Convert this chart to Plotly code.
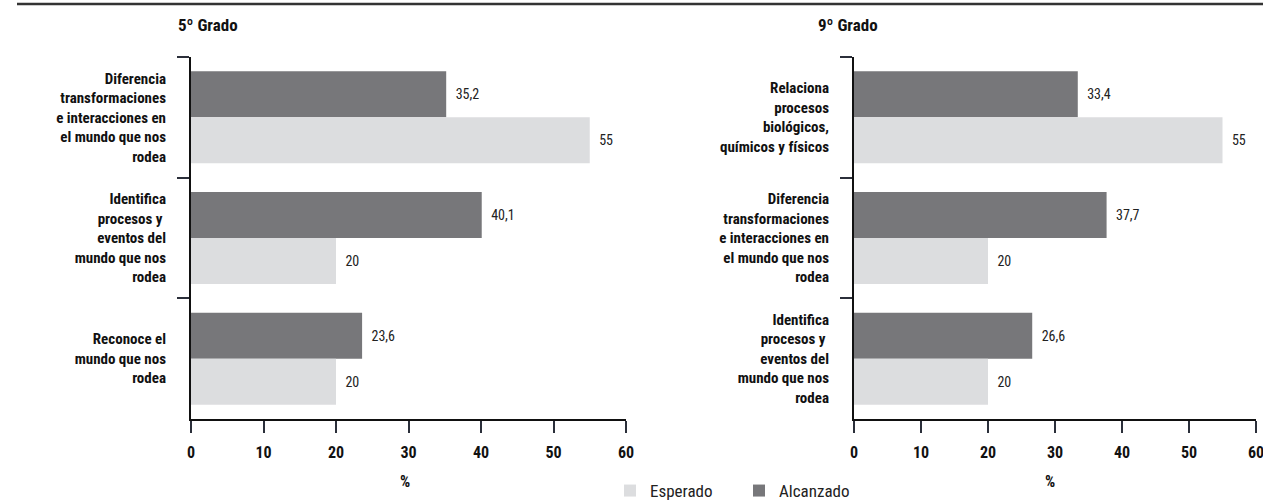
import plotly.graph_objects as go

# ---- data ----
cats5 = [
    "Diferencia<br>transformaciones<br>e interacciones en<br>el mundo que nos<br>rodea",
    "Identifica<br>procesos y\u00a0<br>eventos del<br>mundo que nos<br>rodea",
    "Reconoce el<br>mundo que nos<br>rodea",
]
alc5 = [35.2, 40.1, 23.6]
esp5 = [55, 20, 20]

cats9 = [
    "Relaciona<br>procesos<br>biológicos,<br>químicos y físicos",
    "Diferencia<br>transformaciones<br>e interacciones en<br>el mundo que nos<br>rodea",
    "Identifica<br>procesos y\u00a0<br>eventos del<br>mundo que nos<br>rodea",
]
alc9 = [33.4, 37.7, 26.6]
esp9 = [55, 20, 20]

x_ticks = [0, 10, 20, 30, 40, 50, 60]

DARK = "#77777a"
LIGHT = "#dcdddf"
FONT = "Liberation Sans Narrow, Arial Narrow, Roboto Condensed, DejaVu Sans Condensed, sans-serif"


def fmt(v):
    s = ("%g" % v).replace(".", ",")
    return "\u00a0\u00a0" + s


fig = go.Figure()
for cats, alc, esp, xa, ya, show in [
    (cats5, alc5, esp5, "x", "y", True),
    (cats9, alc9, esp9, "x2", "y2", False),
]:
    fig.add_trace(go.Bar(
        y=cats, x=alc, orientation="h", name="Alcanzado",
        marker=dict(color=DARK, line=dict(width=0)),
        text=[fmt(v) for v in alc], textposition="outside",
        textfont=dict(family=FONT, size=14, color="#222"),
        cliponaxis=False, xaxis=xa, yaxis=ya, showlegend=show,
        legendgroup="alc", legendrank=2, hoverinfo="skip",
    ))
    fig.add_trace(go.Bar(
        y=cats, x=esp, orientation="h", name="Esperado",
        marker=dict(color=LIGHT, line=dict(width=0)),
        text=[fmt(v) for v in esp], textposition="outside",
        textfont=dict(family=FONT, size=14, color="#222"),
        cliponaxis=False, xaxis=xa, yaxis=ya, showlegend=show,
        legendgroup="esp", legendrank=1, hoverinfo="skip",
    ))

W, H = 1263, 501
L, R, T, B = 191, 7, 57, 82
pw = W - L - R
ph = H - T - B


def px(x):
    return (x - L) / pw


def py(y):
    return (H - B - y) / ph


xcommon = dict(
    range=[0, 60], tickvals=x_ticks, ticks="outside", ticklen=12, tickwidth=1.5,
    tickcolor="#2b2f3a", showline=True, linewidth=2, linecolor="#111",
    showgrid=False, zeroline=False,
    tickfont=dict(family=FONT, size=16, color="#111", weight="bold"),
    ticklabelstandoff=6, ticklabeloverflow="allow",
)
ycommon = dict(
    type="category", range=[2.5, -0.5], tickson="boundaries", ticks="outside",
    ticklen=12, tickwidth=1.5, tickcolor="#2b2f3a", showline=True, linewidth=2,
    linecolor="#111", showgrid=False, zeroline=False,
    tickfont=dict(family=FONT, size=15, color="#111", weight="bold"),
    ticklabelstandoff=20,
)

fig.update_layout(
    width=W, height=H,
    margin=dict(l=L, r=R, t=T, b=B, autoexpand=False),
    paper_bgcolor="white", plot_bgcolor="white",
    barmode="group", bargap=0.238, bargroupgap=0,
    xaxis=dict(domain=[0, px(626)], anchor="y", **xcommon),
    yaxis=dict(domain=[0, 1], anchor="x", **ycommon),
    xaxis2=dict(domain=[px(854), px(1256)], anchor="y2", **xcommon),
    yaxis2=dict(domain=[0, 1], anchor="x2", **ycommon),
    legend=dict(
        orientation="h", x=px(610), xanchor="left", y=py(473), yanchor="top",
        font=dict(family=FONT, size=17, color="#222"),
        bgcolor="rgba(0,0,0,0)", itemclick=False,
        entrywidth=84, entrywidthmode="pixels",
    ),
    font=dict(family=FONT),
    shapes=[dict(
        type="line", xref="paper", yref="paper",
        x0=px(17), x1=px(1263), y0=py(4), y1=py(4),
        line=dict(color="#333", width=2.5),
    )],
    annotations=[
        dict(text="5º Grado", xref="paper", yref="paper", x=px(176), y=py(25),
             xanchor="left", yanchor="middle", showarrow=False,
             font=dict(family=FONT, size=17, color="#111", weight="bold")),
        dict(text="9º Grado", xref="paper", yref="paper", x=px(816), y=py(25),
             xanchor="left", yanchor="middle", showarrow=False,
             font=dict(family=FONT, size=17, color="#111", weight="bold")),
        dict(text="%", xref="paper", yref="paper", x=px(405), y=py(481),
             xanchor="center", yanchor="middle", showarrow=False,
             font=dict(family=FONT, size=16, color="#111", weight="bold")),
        dict(text="%", xref="paper", yref="paper", x=px(1050), y=py(481),
             xanchor="center", yanchor="middle", showarrow=False,
             font=dict(family=FONT, size=16, color="#111", weight="bold")),
    ],
)

fig.write_html(
    "out.html",
    config={"displayModeBar": False},
    post_script="document.body.style.margin='0';document.body.style.padding='0';",
)
